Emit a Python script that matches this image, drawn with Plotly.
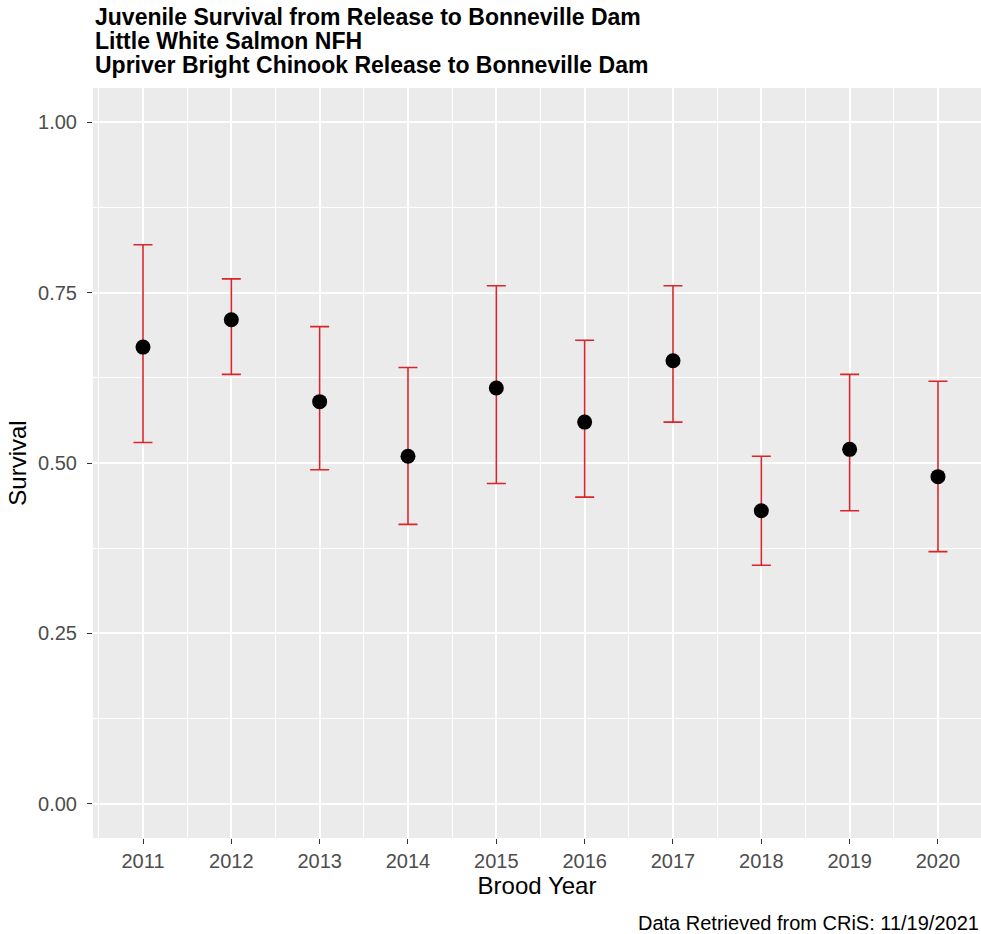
import plotly.graph_objects as go

years = [2011, 2012, 2013, 2014, 2015, 2016, 2017, 2018, 2019, 2020]
survival = [0.67, 0.71, 0.59, 0.51, 0.61, 0.56, 0.65, 0.43, 0.52, 0.48]
upper = [0.82, 0.77, 0.70, 0.64, 0.76, 0.68, 0.76, 0.51, 0.63, 0.62]
lower = [0.53, 0.63, 0.49, 0.41, 0.47, 0.45, 0.56, 0.35, 0.43, 0.37]

title_lines = [
    "Juvenile Survival from Release to Bonneville Dam",
    "Little White Salmon NFH",
    "Upriver Bright Chinook Release to Bonneville Dam",
]
y_ticks = [0.0, 0.25, 0.5, 0.75, 1.0]
y_ticklabels = ["0.00", "0.25", "0.50", "0.75", "1.00"]
caption = "Data Retrieved from CRiS: 11/19/2021"

err_plus = [u - s for u, s in zip(upper, survival)]
err_minus = [s - l for s, l in zip(survival, lower)]

FONT = "Liberation Sans, Arial, sans-serif"

fig = go.Figure()
fig.add_trace(go.Scatter(
    x=years, y=survival, mode="markers",
    marker=dict(color="black", size=15),
    error_y=dict(type="data", symmetric=False, array=err_plus, arrayminus=err_minus,
                 color="#D9262B", thickness=1.6, width=9.5),
    showlegend=False, hoverinfo="x+y",
))

fig.update_layout(
    width=981, height=934,
    margin=dict(l=93, r=0, t=88, b=96, pad=0),
    paper_bgcolor="white", plot_bgcolor="#EBEBEB",
    font=dict(family=FONT, color="black"),
    xaxis=dict(
        range=[2010.434, 2020.487], tickmode="array", tickvals=years,
        ticktext=[str(y) for y in years],
        showgrid=True, gridcolor="white", gridwidth=1.6,
        minor=dict(tick0=2010.5, dtick=1, showgrid=True, gridcolor="white", gridwidth=0.8),
        ticks="outside", ticklen=5, tickcolor="#333333", tickwidth=1,
        tickfont=dict(size=20, color="#4D4D4D", family=FONT),
        zeroline=False, showline=False,
        title=dict(text="Brood Year", font=dict(size=24, color="black", family=FONT), standoff=6),
    ),
    yaxis=dict(
        range=[-0.05, 1.05], tickmode="array", tickvals=y_ticks, ticktext=y_ticklabels,
        showgrid=True, gridcolor="white", gridwidth=1.6,
        minor=dict(tick0=0.125, dtick=0.25, showgrid=True, gridcolor="white", gridwidth=0.8),
        ticks="outside", ticklen=5, tickcolor="#333333", tickwidth=1,
        tickfont=dict(size=20, color="#4D4D4D", family=FONT),
        ticklabelstandoff=6,
        zeroline=False, showline=False,
        title=dict(text="Survival", font=dict(size=24, color="black", family=FONT), standoff=4),
    ),
)

shifts = [71, 47, 23]
for line, s in zip(title_lines, shifts):
    fig.add_annotation(
        text="<b>" + line + "</b>", xref="paper", yref="paper", x=0, y=1,
        xanchor="left", yanchor="middle", yshift=s, showarrow=False,
        font=dict(size=23, color="black", family=FONT),
    )

fig.add_annotation(
    text=caption, xref="paper", yref="paper", x=1, y=0,
    xanchor="right", yanchor="middle", yshift=-85, showarrow=False,
    font=dict(size=20, color="black", family=FONT),
)

fig.write_html("out.html", config={"displayModeBar": False},
               post_script="document.body.style.margin='0px';document.body.style.overflow='hidden';")
